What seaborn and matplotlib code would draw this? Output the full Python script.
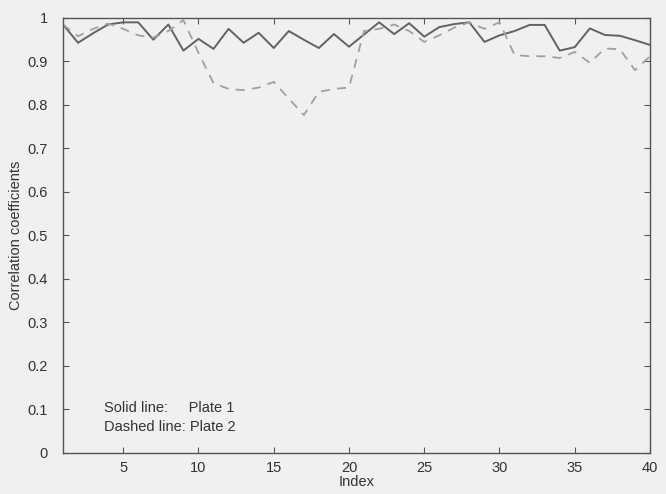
import matplotlib
matplotlib.use("Agg")
import matplotlib.pyplot as plt
import seaborn as sns
import pandas as pd

index = list(range(1, 41))
plate1 = [0.985, 0.943, 0.965, 0.985, 0.99, 0.99, 0.95, 0.985, 0.925, 0.952,
          0.929, 0.975, 0.943, 0.966, 0.931, 0.970, 0.95, 0.931, 0.963, 0.934,
          0.962, 0.99, 0.963, 0.988, 0.957, 0.979, 0.986, 0.99, 0.945, 0.96,
          0.97, 0.984, 0.984, 0.925, 0.933, 0.976, 0.961, 0.959, 0.949, 0.938]
plate2 = [0.985, 0.958, 0.975, 0.987, 0.975, 0.96, 0.955, 0.97, 0.995, 0.92,
          0.85, 0.837, 0.834, 0.84, 0.853, 0.815, 0.777, 0.83, 0.837, 0.84,
          0.97, 0.975, 0.985, 0.97, 0.945, 0.96, 0.978, 0.99, 0.975, 0.99,
          0.915, 0.912, 0.912, 0.908, 0.922, 0.897, 0.93, 0.928, 0.88, 0.912]
xticks = [5, 10, 15, 20, 25, 30, 35, 40]
yticks = [0, 0.1, 0.2, 0.3, 0.4, 0.5, 0.6, 0.7, 0.8, 0.9, 1]
ytick_labels = ["0", "0.1", "0.2", "0.3", "0.4", "0.5", "0.6", "0.7", "0.8", "0.9", "1"]

df = pd.DataFrame({"Index": index, "Plate 1": plate1, "Plate 2": plate2})

sns.set_style("ticks")
plt.rcParams["font.family"] = ["Liberation Sans", "DejaVu Sans"]
plt.rcParams["xtick.direction"] = "in"
plt.rcParams["ytick.direction"] = "in"

bg = "#f0f0ef"
fig = plt.figure(figsize=(6.66, 4.94), dpi=100, facecolor=bg)
ax = fig.add_axes([0.0946, 0.083, 0.8814, 0.8806])
ax.set_facecolor(bg)

sns.lineplot(data=df, x="Index", y="Plate 1", ax=ax, color="#626262", linewidth=1.4)
sns.lineplot(data=df, x="Index", y="Plate 2", ax=ax, color="#a0a0a0", linewidth=1.3,
             linestyle=(0, (5, 4)))

ax.set_xlim(1, 40)
ax.set_ylim(0, 1)
ax.set_xticks(xticks)
ax.set_yticks(yticks)
ax.set_yticklabels(ytick_labels)
ax.tick_params(axis="both", which="both", direction="in", top=True, right=True,
               length=4, width=0.8, color="#555555", labelsize=10.5, labelcolor="#333333")
ax.tick_params(axis="y", pad=11)
ax.tick_params(axis="x", pad=6)
for s in ax.spines.values():
    s.set_color("#555555")
    s.set_linewidth(1.0)

ax.set_xlabel("Index", fontsize=10.5, color="#333333", labelpad=0)
ax.set_ylabel("Correlation coefficients", fontsize=10.5, color="#333333", labelpad=3)

ax.text(3.7, 0.103, "Solid line:     Plate 1", fontsize=10.5, color="#333333", va="center")
ax.text(3.7, 0.060, "Dashed line: Plate 2", fontsize=10.5, color="#333333", va="center")

fig.savefig("out.png", dpi=100, facecolor=bg)
